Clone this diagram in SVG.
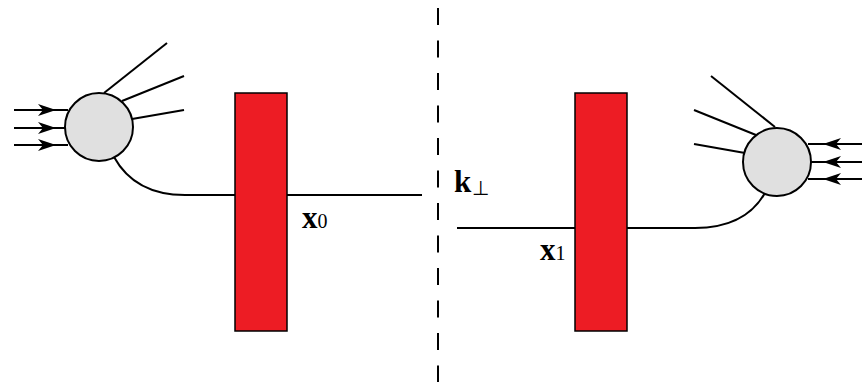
<svg xmlns="http://www.w3.org/2000/svg" width="862" height="386" viewBox="0 0 862 386">
<defs>
<style>
.ln{stroke:#000;stroke-width:2;fill:none}
.blob{fill:#e0e0e0;stroke:#000;stroke-width:2}
.wall{fill:#ed1c24;stroke:#000;stroke-width:1.5}
.lbl{font-family:"Liberation Serif",serif;font-weight:bold;font-size:31px}
.sub{font-family:"Liberation Serif",serif;font-weight:normal;font-size:20px}
</style>
<marker id="ah" viewBox="0 0 18 12" refX="18" refY="6" markerWidth="18" markerHeight="12" markerUnits="userSpaceOnUse" orient="auto">
<path d="M0,0 L18,6 L0,12 L5,6 Z" fill="#000"/>
</marker>
</defs>
<g id="connectors">
<line class="ln" x1="14" y1="110" x2="56" y2="110" marker-end="url(#ah)"/>
<line class="ln" x1="55" y1="110" x2="68" y2="110"/>
<line class="ln" x1="14" y1="128" x2="56" y2="128" marker-end="url(#ah)"/>
<line class="ln" x1="55" y1="128" x2="66" y2="128"/>
<line class="ln" x1="14" y1="145" x2="56" y2="145" marker-end="url(#ah)"/>
<line class="ln" x1="55" y1="145" x2="68" y2="145"/>
<line class="ln" x1="104" y1="93" x2="167" y2="43"/>
<line class="ln" x1="122" y1="101" x2="184" y2="76"/>
<line class="ln" x1="132" y1="119" x2="184" y2="110"/>
<path class="ln" d="M114,157 Q135,195 185,195 L422,195"/>
<line class="ln" x1="862" y1="144" x2="823" y2="144" marker-end="url(#ah)"/>
<line class="ln" x1="825" y1="144" x2="808" y2="144"/>
<line class="ln" x1="862" y1="162" x2="823" y2="162" marker-end="url(#ah)"/>
<line class="ln" x1="825" y1="162" x2="810" y2="162"/>
<line class="ln" x1="862" y1="179" x2="823" y2="179" marker-end="url(#ah)"/>
<line class="ln" x1="825" y1="179" x2="808" y2="179"/>
<line class="ln" x1="775" y1="127" x2="711" y2="76"/>
<line class="ln" x1="756" y1="135" x2="694" y2="110"/>
<line class="ln" x1="745" y1="153" x2="694" y2="144"/>
<path class="ln" d="M765,193 Q745,228 695,228 L457,228"/>
<line x1="438" y1="8" x2="438" y2="382" stroke="#000" stroke-width="2" stroke-dasharray="17,15.5"/>
</g>
<g id="blob-left"><circle class="blob" cx="99" cy="127" r="34"/></g>
<g id="blob-right"><circle class="blob" cx="777" cy="162" r="34"/></g>
<g id="wall-left"><rect class="wall" x="235" y="93" width="52" height="238"/></g>
<g id="wall-right"><rect class="wall" x="575" y="93" width="52" height="238"/></g>
<g id="label-x0"><text class="lbl" x="302" y="228">x<tspan class="sub">0</tspan></text></g>
<g id="label-x1"><text class="lbl" x="540" y="260">x<tspan class="sub">1</tspan></text></g>
<g id="label-k"><text class="lbl" x="454" y="192">k<tspan class="sub" dx="1" dy="3">⊥</tspan></text></g>
</svg>
